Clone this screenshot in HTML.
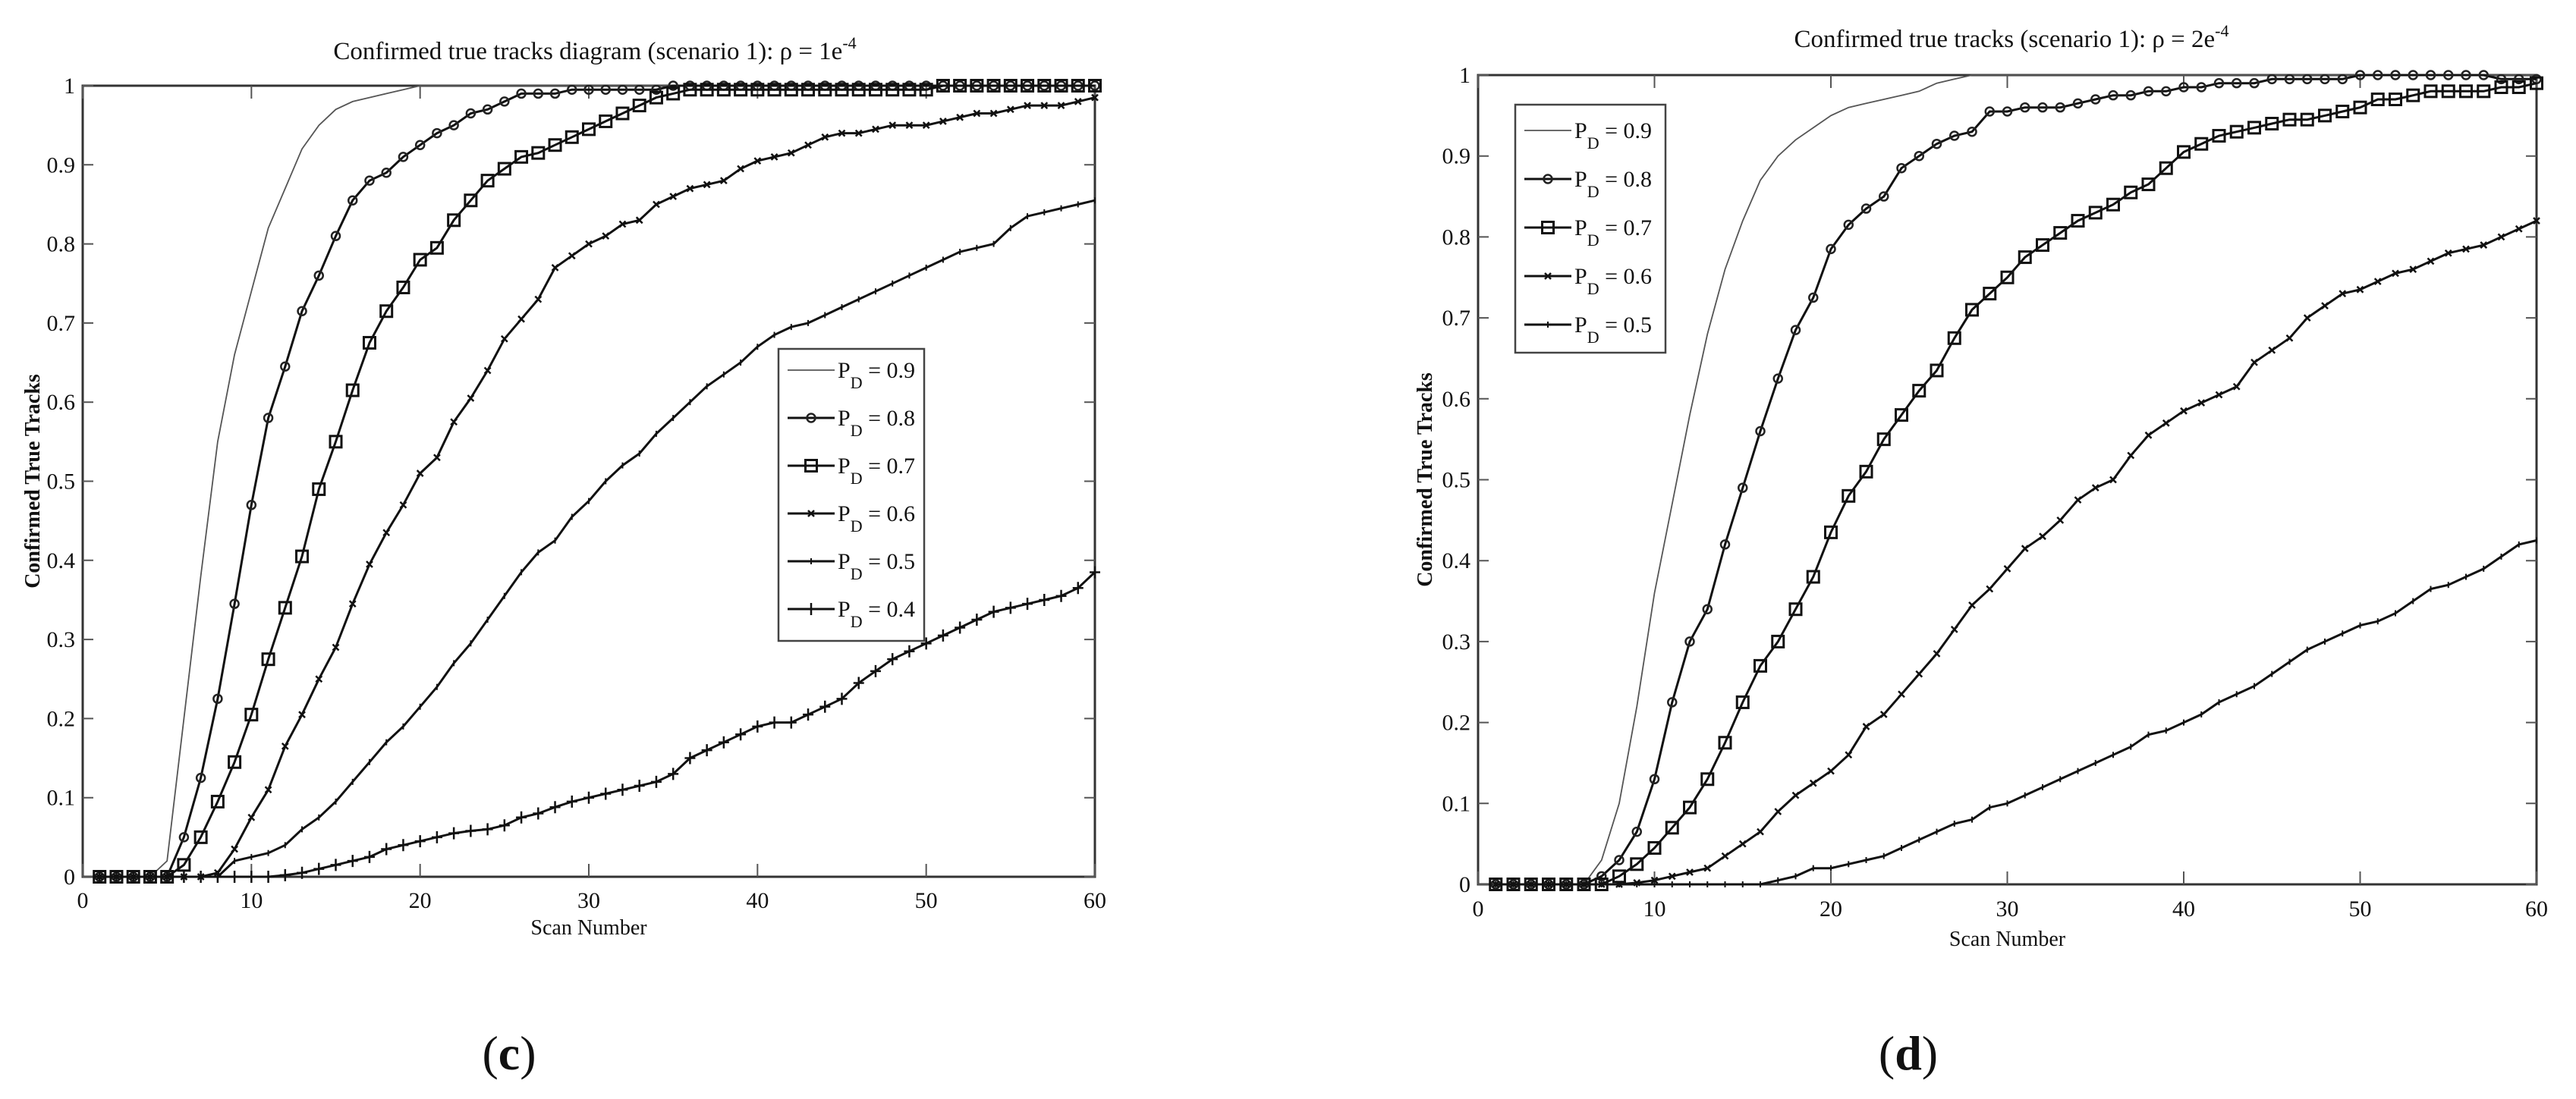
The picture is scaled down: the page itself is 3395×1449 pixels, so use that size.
<!DOCTYPE html>
<html><head><meta charset="utf-8">
<style>
html,body{margin:0;padding:0;background:#fff;}
svg{display:block;}
text{font-family:"Liberation Serif",serif;fill:#111;}
</style></head>
<body>
<svg id="fig" width="3395" height="1449" viewBox="0 0 3395 1449" xmlns="http://www.w3.org/2000/svg">
<rect width="3395" height="1449" fill="#fff"/>
<g id="chartC"></g>
<g id="chartD"></g>
<text x="671" y="1410" font-size="64" text-anchor="middle">(<tspan font-weight="bold">c</tspan>)</text>
<text x="2515" y="1410" font-size="64" text-anchor="middle">(<tspan font-weight="bold">d</tspan>)</text>
</svg>
<script>
const scans = Array.from({length:60},(_,i)=>i+1);
const xTicks = [0,10,20,30,40,50,60];
const yTicks = [0,0.1,0.2,0.3,0.4,0.5,0.6,0.7,0.8,0.9,1];
const yTickLabels = ["0","0.1","0.2","0.3","0.4","0.5","0.6","0.7","0.8","0.9","1"];

const c09 = [0,0,0,0,0.02,0.2,0.38,0.55,0.66,0.74,0.82,0.87,0.92,0.95,0.97,0.98,0.985,0.99,0.995,1,1,1,1,1,1,1,1,1,1,1,1,1,1,1,1,1,1,1,1,1,1,1,1,1,1,1,1,1,1,1,1,1,1,1,1,1,1,1,1,1];
const c08 = [0,0,0,0,0,0.05,0.125,0.225,0.345,0.47,0.58,0.645,0.715,0.76,0.81,0.855,0.88,0.89,0.91,0.925,0.94,0.95,0.965,0.97,0.98,0.99,0.99,0.99,0.995,0.995,0.995,0.995,0.995,0.995,1,1,1,1,1,1,1,1,1,1,1,1,1,1,1,1,1,1,1,1,1,1,1,1,1,1];
const c07 = [0,0,0,0,0,0.015,0.05,0.095,0.145,0.205,0.275,0.34,0.405,0.49,0.55,0.615,0.675,0.715,0.745,0.78,0.795,0.83,0.855,0.88,0.895,0.91,0.915,0.925,0.935,0.945,0.955,0.965,0.975,0.985,0.99,0.995,0.995,0.995,0.995,0.995,0.995,0.995,0.995,0.995,0.995,0.995,0.995,0.995,0.995,0.995,1,1,1,1,1,1,1,1,1,1];
const c06 = [0,0,0,0,0,0,0,0.005,0.035,0.075,0.11,0.165,0.205,0.25,0.29,0.345,0.395,0.435,0.47,0.51,0.53,0.575,0.605,0.64,0.68,0.705,0.73,0.77,0.785,0.8,0.81,0.825,0.83,0.85,0.86,0.87,0.875,0.88,0.895,0.905,0.91,0.915,0.925,0.935,0.94,0.94,0.945,0.95,0.95,0.95,0.955,0.96,0.965,0.965,0.97,0.975,0.975,0.975,0.98,0.985];
const c05 = [0,0,0,0,0,0,0,0,0.02,0.025,0.03,0.04,0.06,0.075,0.095,0.12,0.145,0.17,0.19,0.215,0.24,0.27,0.295,0.325,0.355,0.385,0.41,0.425,0.455,0.475,0.5,0.52,0.535,0.56,0.58,0.6,0.62,0.635,0.65,0.67,0.685,0.695,0.7,0.71,0.72,0.73,0.74,0.75,0.76,0.77,0.78,0.79,0.795,0.8,0.82,0.835,0.84,0.845,0.85,0.855];
const c04 = [0,0,0,0,0,0,0,0,0,0,0,0.002,0.005,0.01,0.015,0.02,0.025,0.035,0.04,0.045,0.05,0.055,0.058,0.06,0.065,0.075,0.08,0.088,0.095,0.1,0.105,0.11,0.115,0.12,0.13,0.15,0.16,0.17,0.18,0.19,0.195,0.195,0.205,0.215,0.225,0.245,0.26,0.275,0.285,0.295,0.305,0.315,0.325,0.335,0.34,0.345,0.35,0.355,0.365,0.385];

const d09 = [0,0,0,0,0,0,0.03,0.1,0.22,0.36,0.47,0.58,0.68,0.76,0.82,0.87,0.9,0.92,0.935,0.95,0.96,0.965,0.97,0.975,0.98,0.99,0.995,1,1,1,1,1,1,1,1,1,1,1,1,1,1,1,1,1,1,1,1,1,1,1,1,1,1,1,1,1,1,1,1,1];
const d08 = [0,0,0,0,0,0,0.01,0.03,0.065,0.13,0.225,0.3,0.34,0.42,0.49,0.56,0.625,0.685,0.725,0.785,0.815,0.835,0.85,0.885,0.9,0.915,0.925,0.93,0.955,0.955,0.96,0.96,0.96,0.965,0.97,0.975,0.975,0.98,0.98,0.985,0.985,0.99,0.99,0.99,0.995,0.995,0.995,0.995,0.995,1,1,1,1,1,1,1,1,0.995,0.995,0.995];
const d07 = [0,0,0,0,0,0,0,0.01,0.025,0.045,0.07,0.095,0.13,0.175,0.225,0.27,0.3,0.34,0.38,0.435,0.48,0.51,0.55,0.58,0.61,0.635,0.675,0.71,0.73,0.75,0.775,0.79,0.805,0.82,0.83,0.84,0.855,0.865,0.885,0.905,0.915,0.925,0.93,0.935,0.94,0.945,0.945,0.95,0.955,0.96,0.97,0.97,0.975,0.98,0.98,0.98,0.98,0.985,0.985,0.99];
const d06 = [0,0,0,0,0,0,0,0,0.002,0.005,0.01,0.015,0.02,0.035,0.05,0.065,0.09,0.11,0.125,0.14,0.16,0.195,0.21,0.235,0.26,0.285,0.315,0.345,0.365,0.39,0.415,0.43,0.45,0.475,0.49,0.5,0.53,0.555,0.57,0.585,0.595,0.605,0.615,0.645,0.66,0.675,0.7,0.715,0.73,0.735,0.745,0.755,0.76,0.77,0.78,0.785,0.79,0.8,0.81,0.82];
const d05 = [0,0,0,0,0,0,0,0,0,0,0,0,0,0,0,0,0.005,0.01,0.02,0.02,0.025,0.03,0.035,0.045,0.055,0.065,0.075,0.08,0.095,0.1,0.11,0.12,0.13,0.14,0.15,0.16,0.17,0.185,0.19,0.2,0.21,0.225,0.235,0.245,0.26,0.275,0.29,0.3,0.31,0.32,0.325,0.335,0.35,0.365,0.37,0.38,0.39,0.405,0.42,0.425];

const legendC = ["0.9","0.8","0.7","0.6","0.5","0.4"];
const legendD = ["0.9","0.8","0.7","0.6","0.5"];

const NS="http://www.w3.org/2000/svg";
function mk(tag,attrs,parent){const e=document.createElementNS(NS,tag);for(const k in attrs)e.setAttribute(k,attrs[k]);parent.appendChild(e);return e;}

function marker(g,type,x,y){
  let m;
  if(type==='circle'){m=mk('circle',{cx:x,cy:y,r:5.5,fill:'none',stroke:'#222','stroke-width':2.5},g);}
  else if(type==='square'){m=mk('rect',{x:x-7.5,y:y-7.5,width:15,height:15,fill:'none',stroke:'#111','stroke-width':3},g);}
  else if(type==='x'){m=mk('path',{d:`M${x-4},${y-4}L${x+4},${y+4}M${x-4},${y+4}L${x+4},${y-4}`,stroke:'#111','stroke-width':2.5},g);}
  else if(type==='tick'){m=mk('path',{d:`M${x},${y-4}L${x},${y+4}`,stroke:'#111','stroke-width':2},g);}
  else if(type==='plus'){m=mk('path',{d:`M${x-7},${y}L${x+7},${y}M${x},${y-8}L${x},${y+8}`,stroke:'#111','stroke-width':2.5},g);}
  else return;
  
  
}

function drawChart(root,cfg){
  const {L,R,T,B}=cfg;
  const xs=v=>L+(R-L)*v/60, ys=v=>B-(B-T)*v;
  // frame
  const fr=mk('rect',{x:L,y:T,width:R-L,height:B-T,fill:'none',stroke:'#333','stroke-width':3},root);
  
  
  xTicks.forEach(t=>{
    const x=xs(t);
    mk('path',{d:`M${x},${B}V${B-17}M${x},${T}V${T+17}`,stroke:'#555','stroke-width':2},root);
    const tx=mk('text',{x:x,y:cfg.xtickY,'font-size':30,'text-anchor':'middle'},root);
    tx.textContent=t;
    
    
  });
  yTicks.forEach((t,i)=>{
    const y=ys(t);
    mk('path',{d:`M${L},${y}H${L+14}M${R},${y}H${R-14}`,stroke:'#555','stroke-width':2},root);
    const tx=mk('text',{x:L-10,y:y+10,'font-size':30,'text-anchor':'end'},root);
    tx.textContent=yTickLabels[i];
    
    
  });
  const ti=mk('text',{x:cfg.titleX,y:cfg.titleY,'font-size':33,'text-anchor':'middle'},root);
  ti.innerHTML=cfg.title+'<tspan dy="-14" font-size="22">-4</tspan>';
  
  
  const xl=mk('text',{x:(L+R)/2,y:cfg.xlabY,'font-size':28,'text-anchor':'middle'},root);
  xl.textContent='Scan Number';
  
  
  const yl=mk('text',{x:0,y:0,'font-size':28,'font-weight':'bold','text-anchor':'middle',transform:`translate(${cfg.ylabX},${(T+B)/2}) rotate(-90)`},root);
  yl.textContent='Confirmed True Tracks';
  
  
  // series
  cfg.series.forEach(s=>{
    const g=mk('g',{},root);
    
    
    const d=s.vals.map((v,i)=>(i?'L':'M')+xs(scans[i]).toFixed(1)+','+ys(v).toFixed(1)).join('');
    mk('path',{d:d,fill:'none',stroke:s.thin?'#555':'#111','stroke-width':s.thin?1.8:3},g);
    s.vals.forEach((v,i)=>marker(g,s.m,xs(scans[i]),ys(v)));
  });
  // legend
  const lg=cfg.leg;
  const lgG=mk('g',{},root);
  
  
  mk('rect',{x:lg.x,y:lg.y,width:lg.w,height:lg.h,fill:'#fff',stroke:'#444','stroke-width':2.5},lgG);
  cfg.series.forEach((s,i)=>{
    const e=mk('g',{},lgG);
    
    
    const y=lg.y+lg.first+i*lg.step;
    mk('path',{d:`M${lg.x+12},${y}H${lg.x+74}`,stroke:s.thin?'#555':'#111','stroke-width':s.thin?1.8:3},e);
    marker(e,s.m,lg.x+43,y);
    const t=mk('text',{x:lg.x+78,y:y+10,'font-size':30},e);
    t.innerHTML='P<tspan dy="14" font-size="22">D</tspan><tspan dy="-14"> = '+legendLabels(cfg)[i]+'</tspan>';
  });
}
function legendLabels(cfg){return cfg.labels;}

drawChart(document.getElementById('chartC'),{
  L:109,R:1443,T:113,B:1156,xtickY:1197,xlabY:1232,ylabX:52,titleX:784,titleY:78,
  title:'Confirmed true tracks diagram (scenario 1): ρ = 1e',labels:legendC,
  leg:{x:1026,y:460,w:192,h:385,first:28,step:63},
  series:[
    {label:legendC[0],vals:c09,m:'none',thin:true},
    {label:legendC[1],vals:c08,m:'circle'},
    {label:legendC[2],vals:c07,m:'square'},
    {label:legendC[3],vals:c06,m:'x'},
    {label:legendC[4],vals:c05,m:'tick'},
    {label:legendC[5],vals:c04,m:'plus'}
  ]});
drawChart(document.getElementById('chartD'),{
  L:1948,R:3343,T:99,B:1166,xtickY:1208,xlabY:1247,ylabX:1887,titleX:2651,titleY:62,
  title:'Confirmed true tracks (scenario 1): ρ = 2e',labels:legendD,
  leg:{x:1997,y:138,w:198,h:327,first:34,step:64},
  series:[
    {label:legendD[0],vals:d09,m:'none',thin:true},
    {label:legendD[1],vals:d08,m:'circle'},
    {label:legendD[2],vals:d07,m:'square'},
    {label:legendD[3],vals:d06,m:'x'},
    {label:legendD[4],vals:d05,m:'tick'}
  ]});
</script>
</body></html>
